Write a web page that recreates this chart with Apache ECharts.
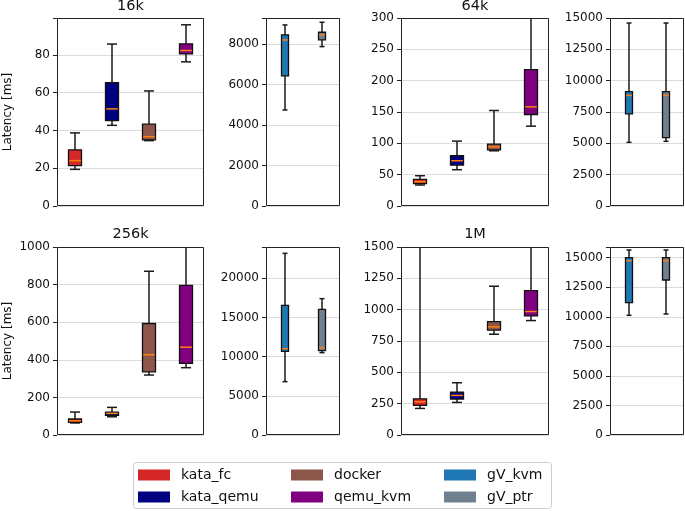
<!DOCTYPE html>
<html>
<head>
<meta charset="utf-8">
<script src="https://cdn.jsdelivr.net/npm/echarts@6/dist/echarts.min.js"></script>
<style>html,body{margin:0;padding:0;background:#fff}#c{width:685px;height:511px}</style>
</head>
<body>
<div id="c"></div>
<script>
// Sizes (panel titles)
const sizes = ['16k', '64k', '256k', '1M'];
// Box stats per size: [min, q1, median, q3, max]
const kata_fc   = [[19.4, 21.4, 24.0, 29.7, 38.7], [33.5, 35.6, 38.8, 42.5, 48.3], [64, 67, 76, 85, 122], [212, 236, 265, 289, 1700]];
const kata_qemu = [[42.7, 45.2, 51.4, 65.3, 85.7], [57.9, 65.3, 72.2, 80.2, 103.5], [97, 104, 115, 122, 147], [260, 287, 316, 342, 417]];
const docker    = [[34.6, 35.0, 36.7, 43.3, 60.9], [88.1, 89.7, 94.5, 98.8, 152.4], [319, 336, 427, 593, 871], [804, 836, 863, 905, 1187]];
const qemu_kvm  = [[76.3, 80.5, 82.3, 85.8, 95.9], [127.4, 146, 158.2, 217.7, 340], [358, 381, 467, 796, 1100], [913, 950, 985, 1152, 1600]];
const gV_kvm    = [[4750, 6433, 8214, 8462, 8957], [5080, 7353, 8824, 9118, 14599], [6809, 10681, 11021, 16553, 23191], [10122, 11194, 14746, 15000, 15648]];
const gV_ptr    = [[7885, 8214, 8462, 8594, 9089], [5160, 5455, 8824, 9118, 14599], [10511, 10766, 11149, 16043, 17404], [10235, 13111, 14746, 15000, 15648]];
// Axis ranges per panel (wide, narrow for each size)
const yMax      = [99.5, 9300, 300, 15000, 1000, 24000, 1500, 15900];
const yInterval = [20, 2000, 50, 2500, 200, 5000, 250, 2500];

const wideCats = ['kata_fc', 'kata_qemu', 'docker', 'qemu_kvm'];
const narrowCats = ['gV_kvm', 'gV_ptr'];
const catData = {kata_fc, kata_qemu, docker, qemu_kvm, gV_kvm, gV_ptr};
const colors = {kata_fc: '#d62728', kata_qemu: '#000080', docker: '#8c564b', qemu_kvm: '#800080', gV_kvm: '#1f77b4', gV_ptr: '#708090'};

const FONT = 'DejaVu Sans';
const colX = [[57, 147], [266, 74], [401, 148], [610, 74]];
const rowY = [18, 247];
const H = 188;

const grids = [], xAxes = [], yAxes = [], series = [], graphics = [];
for (let s = 0; s < 4; s++) {
  const row = s < 2 ? 0 : 1;
  const colBase = (s % 2) * 2;
  for (let k = 0; k < 2; k++) {
    const gi = s * 2 + k;
    const [left, width] = colX[colBase + k];
    grids.push({left, top: rowY[row], width, height: H, show: false});
    graphics.push({type: 'rect', z: 10, silent: true,
      shape: {x: left + 0.5, y: rowY[row] + 0.5, width: width - 1, height: H - 1},
      style: {fill: 'none', stroke: '#222', lineWidth: 1}});
    const cats = k === 0 ? wideCats : narrowCats;
    xAxes.push({type: 'category', gridIndex: gi, data: cats, axisLine: {show: false}, axisTick: {show: false}, axisLabel: {show: false}, splitLine: {show: false}});
    const iv = yInterval[gi];
    yAxes.push({
      type: 'value', gridIndex: gi, min: 0, max: yMax[gi], interval: iv,
      name: (k === 0 && (s === 0 || s === 2)) ? 'Latency [ms]' : '',
      nameLocation: 'middle', nameRotate: 90, nameGap: 43,
      nameTextStyle: {fontFamily: FONT, fontSize: 12, color: '#111'},
      axisLine: {show: false},
      axisTick: {show: true, length: 4, lineStyle: {color: '#222'}},
      axisLabel: {fontFamily: FONT, fontSize: 12, color: '#111', margin: 7,
        formatter: v => (Math.abs(v / iv - Math.round(v / iv)) < 1e-9 ? String(v) : '')},
      splitLine: {show: true, lineStyle: {color: '#dcdcdc', width: 1}}
    });
    cats.forEach((c, ci) => {
      const d = catData[c][s];
      series.push({
        type: 'custom', name: c, xAxisIndex: gi, yAxisIndex: gi,
        itemStyle: {color: colors[c]},
        encode: {x: 0, y: [1, 2, 3, 4, 5]},
        data: [[ci, d[0], d[1], d[2], d[3], d[4]]],
        renderItem: (params, api) => {
          const cs = params.coordSys;
          const yTop = cs.y, yBot = cs.y + cs.height;
          const cl = y => Math.max(yTop, Math.min(yBot, y));
          const idx = api.value(0);
          const cx = Math.round(api.coord([idx, api.value(1)])[0]);
          const yy = [1, 2, 3, 4, 5].map(i => api.coord([idx, api.value(i)])[1]);
          const [yMin, yQ1, yMed, yQ3, yMx] = yy;
          const bw = cs.width > 100 ? 13 : 7;
          const cw = cs.width > 100 ? 10 : 5;
          const col = colors[c];
          const ch = [];
          const lineSt = {stroke: '#1a1a1a', lineWidth: 1.5};
          ch.push({type: 'line', shape: {x1: cx, y1: cl(yMx), x2: cx, y2: cl(yQ3)}, style: lineSt});
          ch.push({type: 'line', shape: {x1: cx, y1: cl(yQ1), x2: cx, y2: cl(yMin)}, style: lineSt});
          if (yMx >= yTop) ch.push({type: 'line', shape: {x1: cx - cw / 2, y1: yMx, x2: cx + cw / 2, y2: yMx}, style: lineSt});
          if (yMin <= yBot) ch.push({type: 'line', shape: {x1: cx - cw / 2, y1: yMin, x2: cx + cw / 2, y2: yMin}, style: lineSt});
          const bt = cl(yQ3), bb = cl(yQ1);
          ch.push({type: 'rect', shape: {x: cx - bw / 2, y: bt, width: bw, height: bb - bt}, style: {fill: col, stroke: '#111', lineWidth: 1.3}});
          ch.push({type: 'line', shape: {x1: cx - bw / 2 + 0.7, y1: yMed, x2: cx + bw / 2 - 0.7, y2: yMed}, style: {stroke: '#ff7f0e', lineWidth: 1.5}});
          return {type: 'group', children: ch};
        }
      });
    });
  }
}

const titlePos = [[130.5, 6], [475, 6], [130.5, 234.5], [475, 234.5]];
sizes.forEach((t, i) => graphics.push({
  type: 'text', x: titlePos[i][0], y: titlePos[i][1],
  style: {text: t, fontFamily: FONT, fontSize: 14.5, fill: '#111', textAlign: 'center', textVerticalAlign: 'middle'}
}));
graphics.push({type: 'rect', shape: {x: 133.5, y: 462.5, width: 418, height: 46, r: 3}, style: {fill: 'none', stroke: '#cccccc', lineWidth: 1}, z: 0});

const legendItems = ['kata_fc', 'kata_qemu', 'docker', 'qemu_kvm', 'gV_kvm', 'gV_ptr'];
const legendLeft = [138, 291, 444];
const legendTop = [468, 490];
const legends = legendItems.map((n, i) => ({
  data: [{name: n, icon: 'rect'}], left: legendLeft[Math.floor(i / 2)], top: legendTop[i % 2],
  itemWidth: 32, itemHeight: 11, selectedMode: false, padding: 0,
  itemStyle: {borderWidth: 0},
  textStyle: {fontFamily: FONT, fontSize: 14, color: '#111', padding: [0, 0, 0, 6]}
}));

const chart = echarts.init(document.getElementById('c'), null, {renderer: 'canvas'});
chart.setOption({
  backgroundColor: '#fff',
  animation: false,
  grid: grids, xAxis: xAxes, yAxis: yAxes, series,
  legend: legends,
  graphic: graphics
});
</script>
</body>
</html>
